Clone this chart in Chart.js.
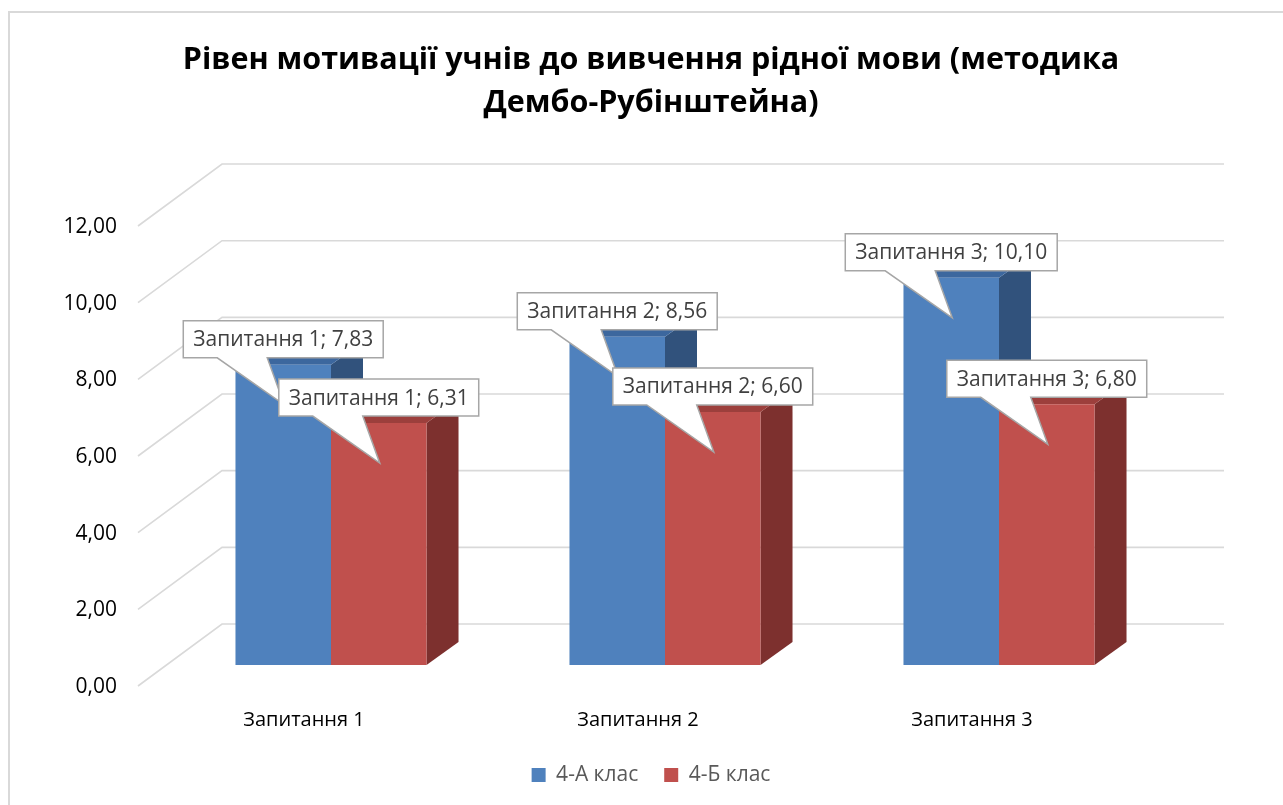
<!DOCTYPE html>
<html>
<head>
<meta charset="utf-8">
<script src="https://cdn.jsdelivr.net/npm/chart.js@4.4.0/dist/chart.umd.min.js"></script>
<style>
  html, body { margin: 0; padding: 0; background: #fff; }
  #wrap { position: relative; width: 1283px; height: 805px; }
</style>
</head>
<body>
<div id="wrap"><canvas id="motivChart" width="1283" height="805"></canvas></div>
<script>
const categories = ['Запитання 1', 'Запитання 2', 'Запитання 3'];
const seriesNames = ['4-А клас', '4-Б клас'];
const classA = [7.83, 8.56, 10.10];
const classB = [6.31, 6.60, 6.80];
const yTicks = [0, 2, 4, 6, 8, 10, 12];
const titleLines = ['Рівен мотивації учнів до вивчення рідної мови (методика', 'Дембо-Рубінштейна)'];

const FONT = '"Open Sans", "Noto Sans", sans-serif';
const fmt = v => v.toFixed(2).replace('.', ',');

// face colours: front, top, side
const shades = [
  { front: '#4f81bd', top: '#3c679e', side: '#31527c' },
  { front: '#c0504d', top: '#9c3f3c', side: '#7d302e' }
];

const barDepth = { dx: 32, dy: -23 };   // bar front -> bar back
const toBack = { dx: 58, dy: -41 };     // bar front plane -> back wall
const toFront = { dx: -26, dy: 21 };    // bar front plane -> floor front edge

function poly(ctx, pts, color) {
  ctx.beginPath();
  ctx.moveTo(pts[0][0], pts[0][1]);
  for (let i = 1; i < pts.length; i++) ctx.lineTo(pts[i][0], pts[i][1]);
  ctx.closePath();
  ctx.fillStyle = color;
  ctx.fill();
}

function callout(ctx, cx, top, text) {
  ctx.font = '21px ' + FONT;
  const w = ctx.measureText(text).width + 20;
  const h = 37;
  const bx = cx - w / 2, by = top - 7 - h;
  ctx.beginPath();
  ctx.moveTo(bx, by);
  ctx.lineTo(bx + w, by);
  ctx.lineTo(bx + w, by + h);
  ctx.lineTo(cx - 16, by + h);
  ctx.lineTo(cx + 1, top + 40);
  ctx.lineTo(cx - 66, by + h);
  ctx.lineTo(bx, by + h);
  ctx.closePath();
  ctx.fillStyle = '#ffffff';
  ctx.fill();
  ctx.strokeStyle = '#a6a6a6';
  ctx.lineWidth = 1.5;
  ctx.stroke();
  ctx.fillStyle = '#404040';
  ctx.textAlign = 'center';
  ctx.textBaseline = 'middle';
  ctx.fillText(text, cx, by + h / 2 + 1);
}

const perspective = {
  id: 'perspective',
  beforeDraw(chart) {
    const ctx = chart.ctx;
    ctx.save();
    ctx.strokeStyle = '#d9d9d9';
    ctx.lineWidth = 2;
    ctx.strokeRect(9, 12, 1300, 820);
    ctx.restore();
  },
  beforeDatasetsDraw(chart) {
    const ctx = chart.ctx;
    const area = chart.chartArea;
    const y = chart.scales.y;
    ctx.save();
    // walls: diagonal on the floor side, straight on the back wall
    ctx.strokeStyle = '#d9d9d9';
    ctx.lineWidth = 1.6;
    yTicks.forEach(v => {
      const py = y.getPixelForValue(v);
      ctx.beginPath();
      ctx.moveTo(area.left + toFront.dx, py + toFront.dy);
      ctx.lineTo(area.left + toBack.dx, py + toBack.dy);
      ctx.lineTo(area.right + toBack.dx, py + toBack.dy);
      ctx.stroke();
    });
    // top and side faces of the bars
    chart.data.datasets.forEach((ds, di) => {
      const meta = chart.getDatasetMeta(di);
      meta.data.forEach(bar => {
        const l = bar.x - bar.width / 2, r = bar.x + bar.width / 2;
        const t = bar.y, b = bar.base;
        const dx = barDepth.dx, dy = barDepth.dy;
        poly(ctx, [[r, t], [r + dx, t + dy], [r + dx, b + dy], [r, b]], shades[di].side);
        poly(ctx, [[l, t], [l + dx, t + dy], [r + dx, t + dy], [r, t]], shades[di].top);
      });
    });
    ctx.restore();
  },
  afterDatasetsDraw(chart) {
    const ctx = chart.ctx;
    ctx.save();
    chart.data.datasets.forEach((ds, di) => {
      const meta = chart.getDatasetMeta(di);
      meta.data.forEach((bar, i) => {
        callout(ctx, bar.x, bar.y, categories[i] + '; ' + fmt(ds.data[i]));
      });
    });
    ctx.restore();
  }
};

new Chart(document.getElementById('motivChart').getContext('2d'), {
  type: 'bar',
  data: {
    labels: categories,
    datasets: [
      { label: seriesNames[0], data: classA, backgroundColor: shades[0].front },
      { label: seriesNames[1], data: classB, backgroundColor: shades[1].front }
    ]
  },
  options: {
    responsive: false,
    animation: false,
    layout: { padding: { left: 19, right: 0, top: 0, bottom: 9.5 } },
    datasets: {
      bar: { barPercentage: 1, categoryPercentage: 0.572, borderWidth: 0 }
    },
    scales: {
      x: {
        grid: { display: false, drawTicks: false },
        border: { display: false },
        ticks: {
          color: '#000000',
          font: { family: FONT, size: 20 },
          padding: 43,
          labelOffset: -27,
          maxRotation: 0
        },
        afterFit(s) { s.height = 73.5; }
      },
      y: {
        min: 0,
        max: 12,
        grid: { display: false, drawTicks: false },
        border: { display: false },
        ticks: {
          stepSize: 2,
          color: '#000000',
          font: { family: FONT, size: 21 },
          padding: 47,
          labelOffset: 22,
          callback: v => fmt(v)
        },
        afterFit(s) { s.width = 145; }
      },
      y2: {
        position: 'right',
        grid: { display: false, drawTicks: false },
        border: { display: false },
        ticks: { display: false },
        afterFit(s) { s.width = 117; }
      }
    },
    plugins: {
      title: {
        display: true,
        text: titleLines,
        color: '#000000',
        font: { family: FONT, size: 30.5, weight: 'bold', lineHeight: 1.41 },
        padding: { top: 38.5, bottom: 80.5 }
      },
      legend: {
        position: 'bottom',
        labels: {
          color: '#595959',
          font: { family: FONT, size: 21 },
          boxWidth: 14,
          boxHeight: 14,
          padding: 26
        }
      },
      tooltip: { enabled: false }
    }
  },
  plugins: [perspective]
});
</script>
</body>
</html>
